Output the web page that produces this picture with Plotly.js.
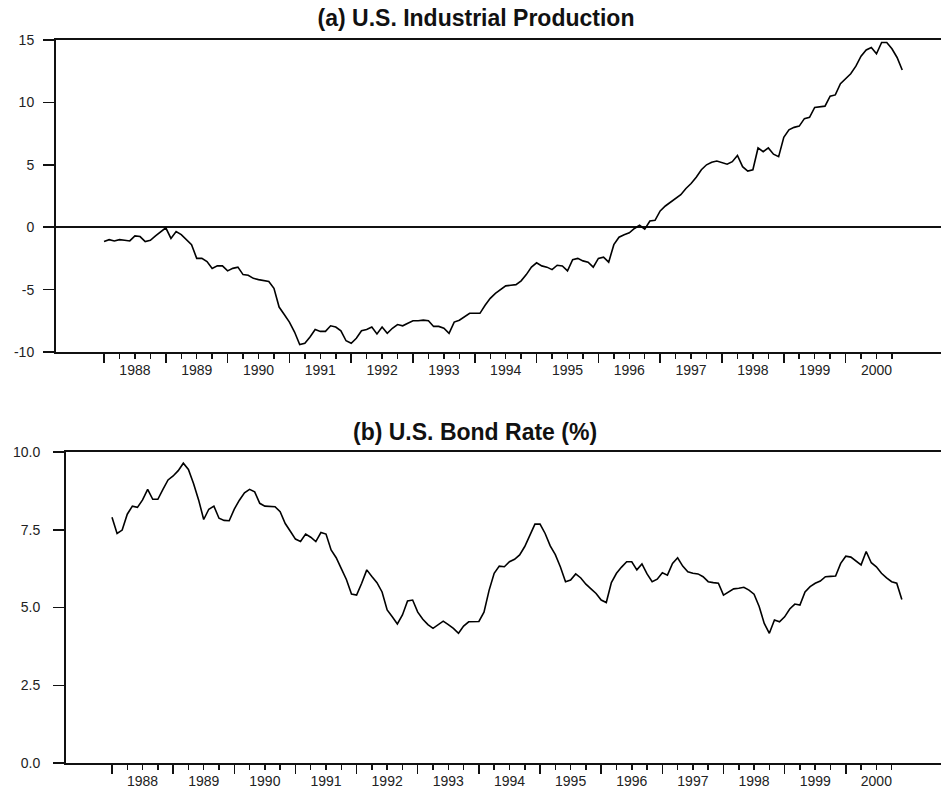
<!DOCTYPE html>
<html>
<head>
<meta charset="utf-8">
<script src="https://cdn.plot.ly/plotly-3.0.1.min.js"></script>
<style>html,body{margin:0;padding:0;background:#fff;}#chart{width:941px;height:792px;}</style>
</head>
<body>
<div id="chart"></div>
<script>
// Monthly data, Jan 1988 .. Dec 2000
const startYear = 1988;
const industrialProduction = [
 -1.15,-1.0,-1.1,-1.0,-1.05,-1.1,-0.7,-0.75,-1.15,-1.05,-0.7,-0.35,
 -0.05,-0.9,-0.35,-0.6,-1.0,-1.4,-2.5,-2.5,-2.75,-3.3,-3.1,-3.1,
 -3.5,-3.3,-3.2,-3.8,-3.85,-4.1,-4.2,-4.3,-4.35,-4.9,-6.4,-7.0,
 -7.6,-8.4,-9.4,-9.3,-8.8,-8.2,-8.35,-8.35,-7.9,-8.0,-8.3,-9.1,
 -9.3,-8.9,-8.3,-8.2,-8.0,-8.55,-8.0,-8.5,-8.1,-7.8,-7.9,-7.7,
 -7.5,-7.5,-7.45,-7.5,-7.95,-7.95,-8.1,-8.5,-7.6,-7.45,-7.2,-6.9,
 -6.9,-6.9,-6.25,-5.7,-5.3,-5.0,-4.7,-4.65,-4.6,-4.3,-3.8,-3.2,
 -2.85,-3.1,-3.2,-3.4,-3.05,-3.1,-3.5,-2.6,-2.5,-2.7,-2.8,-3.2,
 -2.5,-2.4,-2.8,-1.4,-0.8,-0.6,-0.45,-0.1,0.15,-0.15,0.5,0.55,
 1.3,1.7,2.0,2.3,2.6,3.1,3.5,4.0,4.6,5.0,5.2,5.3,
 5.2,5.05,5.25,5.75,4.85,4.5,4.6,6.35,6.05,6.35,5.85,5.65,
 7.2,7.8,8.0,8.1,8.7,8.8,9.6,9.65,9.7,10.5,10.6,11.5,
 11.9,12.3,12.9,13.7,14.2,14.4,13.9,14.8,14.8,14.3,13.6,12.6
];
const bondRate = [
 7.9,7.38,7.49,8.0,8.26,8.22,8.46,8.8,8.48,8.48,8.8,9.1,
 9.23,9.4,9.64,9.44,8.99,8.46,7.83,8.16,8.26,7.87,7.8,7.79,
 8.16,8.45,8.69,8.8,8.72,8.35,8.26,8.25,8.24,8.08,7.7,7.45,
 7.2,7.12,7.36,7.26,7.12,7.41,7.36,6.85,6.6,6.25,5.9,5.43,
 5.4,5.78,6.21,6.0,5.8,5.5,4.92,4.7,4.47,4.76,5.21,5.24,
 4.85,4.62,4.45,4.33,4.45,4.56,4.45,4.33,4.17,4.4,4.54,4.54,
 4.55,4.85,5.55,6.1,6.33,6.31,6.47,6.55,6.69,6.96,7.33,7.68,
 7.68,7.38,6.98,6.7,6.3,5.83,5.88,6.08,5.95,5.75,5.6,5.45,
 5.24,5.16,5.8,6.1,6.3,6.47,6.47,6.21,6.4,6.08,5.83,5.91,
 6.12,6.04,6.42,6.6,6.33,6.15,6.1,6.08,5.99,5.83,5.8,5.78,
 5.4,5.5,5.6,5.62,5.65,5.56,5.43,5.03,4.49,4.17,4.6,4.54,
 4.7,4.95,5.11,5.08,5.5,5.67,5.78,5.85,5.99,6.0,6.01,6.42,
 6.65,6.62,6.5,6.37,6.8,6.44,6.31,6.1,5.95,5.83,5.78,5.26
];
const yearLabels = ['1988','1989','1990','1991','1992','1993','1994','1995','1996','1997','1998','1999','2000'];
const ipTicks = [-10,-5,0,5,10,15];
const ipTickText = ['-10','-5','0','5','10','15'];
const bondTicks = [0,2.5,5,7.5,10];
const bondTickText = ['0.0','2.5','5.0','7.5','10.0'];

const months = industrialProduction.map((_, i) => startYear + i / 12);
const yearVals = yearLabels.map(Number);
const midYearVals = yearVals.map(y => y + 0.5);
const quarterVals = [];
yearVals.forEach(y => { [0.25,0.5,0.75].forEach(q => quarterVals.push(y + q)); });

const W = 941, H = 792;
const font = 'Liberation Sans, Arial, Helvetica, sans-serif';
const tickFont = {family: font, size: 14, color: '#222'};

function tickAxis(left, range, anchor) {
  return {
    domain: [left / W, 1], range: range, type: 'linear', anchor: anchor,
    showgrid: false, zeroline: false,
    showline: true, linecolor: '#111', linewidth: 2, mirror: true,
    tickmode: 'array', tickvals: yearVals, showticklabels: false,
    ticks: 'outside', ticklen: 9, tickwidth: 1.5, tickcolor: '#111',
    minor: {tickmode: 'array', tickvals: quarterVals, ticks: 'outside', ticklen: 5, tickwidth: 1.5, tickcolor: '#111', showgrid: false}
  };
}
function labelAxis(left, range, anchor, over) {
  return {
    domain: [left / W, 1], range: range, type: 'linear', anchor: anchor, overlaying: over, side: 'bottom',
    showgrid: false, zeroline: false, showline: false, ticks: '',
    tickmode: 'array', tickvals: midYearVals, ticktext: yearLabels,
    tickfont: tickFont, ticklabelstandoff: 8
  };
}

const topRange = [1987.223, 2001.544];
const botRange = [1987.248, 2001.557];

const data = [
  {x: months, y: industrialProduction, type: 'scatter', mode: 'lines', xaxis: 'x', yaxis: 'y',
   line: {color: '#000', width: 1.6}, hoverinfo: 'skip'},
  {x: months, y: bondRate, type: 'scatter', mode: 'lines', xaxis: 'x2', yaxis: 'y2',
   line: {color: '#000', width: 1.6}, hoverinfo: 'skip'},
  {x: [], y: [], type: 'scatter', mode: 'lines', xaxis: 'x3', yaxis: 'y', hoverinfo: 'skip'},
  {x: [], y: [], type: 'scatter', mode: 'lines', xaxis: 'x4', yaxis: 'y2', hoverinfo: 'skip'}
];

const layout = {
  width: W, height: H,
  margin: {l: 0, r: 0, t: 0, b: 0, pad: 0},
  paper_bgcolor: '#fff', plot_bgcolor: '#fff',
  showlegend: false,
  font: {family: font, color: '#111'},
  title: {text: '<b>(a) U.S. Industrial Production</b>', font: {family: font, size: 23, color: '#111'},
          x: 476 / W, xanchor: 'center', y: 1 - 18 / H, yanchor: 'middle', xref: 'paper', yref: 'paper'},
  xaxis: tickAxis(56, topRange, 'y'),
  xaxis3: labelAxis(56, topRange, 'y', 'x'),
  yaxis: {
    domain: [1 - 352 / H, 1 - 40 / H], range: [-10, 15], anchor: 'x',
    showgrid: false, showline: true, linecolor: '#111', linewidth: 2,
    zeroline: true, zerolinecolor: '#111', zerolinewidth: 1.6,
    tickmode: 'array', tickvals: ipTicks, ticktext: ipTickText,
    ticks: 'outside', ticklen: 11, tickwidth: 1.5, tickcolor: '#111', tickfont: tickFont,
    ticklabelstandoff: 6
  },
  xaxis2: tickAxis(66, botRange, 'y2'),
  xaxis4: labelAxis(66, botRange, 'y2', 'x2'),
  yaxis2: {
    domain: [1 - 763 / H, 1 - 452 / H], range: [0, 10], anchor: 'x2',
    showgrid: false, showline: true, linecolor: '#111', linewidth: 2, zeroline: false,
    tickmode: 'array', tickvals: bondTicks, ticktext: bondTickText,
    ticks: 'outside', ticklen: 11, tickwidth: 1.5, tickcolor: '#111', tickfont: tickFont,
    ticklabelstandoff: 10
  },
  annotations: [{
    text: '<b>(b) U.S. Bond Rate (%)</b>', xref: 'paper', yref: 'paper',
    x: 475 / W, y: 1 - 432 / H, xanchor: 'center', yanchor: 'middle', showarrow: false,
    font: {family: font, size: 23, color: '#111'}
  }]
};

Plotly.newPlot('chart', data, layout, {staticPlot: true, displayModeBar: false});
</script>
</body>
</html>
